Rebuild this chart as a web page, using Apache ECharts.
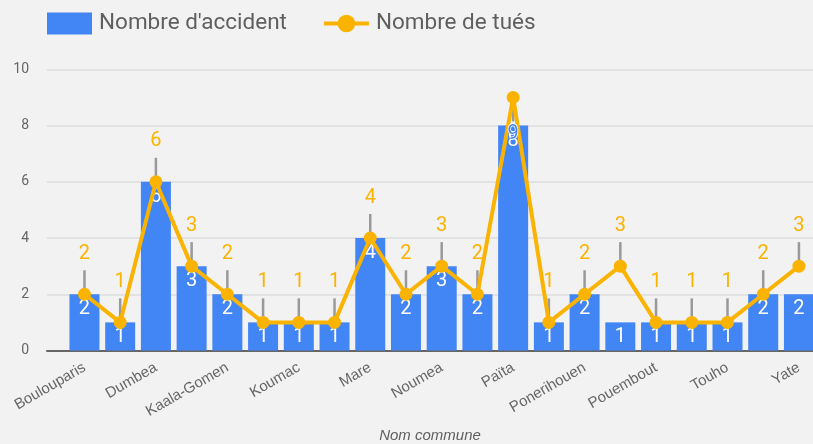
<!DOCTYPE html>
<html lang="fr">
<head>
    <meta charset="UTF-8">
    <title>Accidents par commune</title>
    <style>
        html, body { margin: 0; padding: 0; background: #f2f2f2; }
    </style>
</head>
<body>
<div id="main" style="width: 813px;height:444px;"></div>
<script src="https://cdn.jsdelivr.net/npm/echarts@6/dist/echarts.min.js"></script>
<script>
    // données
    var communes = ['Boulouparis', 'Bourail', 'Dumbea', 'Houailou', 'Kaala-Gomen', 'Kone', 'Koumac', 'La Foa',
        'Mare', 'Mont-Dore', 'Noumea', 'Ouegoa', 'Païta', 'Poindimie', 'Ponerihouen', 'Pouebo',
        'Pouembout', 'Poya', 'Touho', 'Voh', 'Yate'];
    var accidents = [2, 1, 6, 3, 2, 1, 1, 1, 4, 2, 3, 2, 8, 1, 2, 1, 1, 1, 1, 2, 2];
    var tues = [2, 1, 6, 3, 2, 1, 1, 1, 4, 2, 3, 2, 9, 1, 2, 3, 1, 1, 1, 2, 3];
    var yTicks = [0, 2, 4, 6, 8, 10];

    var bleu = '#4285F4';
    var orange = '#FAB300';
    var gris = '#666666';
    var maxIdx = tues.indexOf(Math.max.apply(null, tues));

    var myChart = echarts.init(document.getElementById('main'));

    var option = {
        backgroundColor: '#f2f2f2',
        textStyle: { fontFamily: 'Roboto' },
        animation: false,
        legend: {
            left: 47,
            top: 12,
            padding: 0,
            itemWidth: 45,
            itemHeight: 22,
            itemGap: 35,
            textStyle: { fontSize: 22.5, color: '#5f5f5f', padding: [0, 0, 0, 2] },
            data: [
                { name: "Nombre d'accident", icon: 'rect' },
                { name: 'Nombre de tués', lineStyle: { width: 4 } }
            ]
        },
        grid: [
            // cadre : lignes de grille + axe
            { left: 47, right: 0, top: 69.3, bottom: 93.5, outerBoundsMode: 'none' },
            // zone des barres
            { left: 66.6, right: -3.8, top: 69.3, bottom: 93.5, outerBoundsMode: 'none' }
        ],
        xAxis: [
            {
                gridIndex: 0, type: 'value', min: 0, max: 1,
                axisLabel: { show: false }, axisTick: { show: false }, splitLine: { show: false },
                axisLine: { show: true, lineStyle: { color: '#666', width: 2 } },
                name: 'Nom commune', nameLocation: 'middle', nameGap: 78,
                nameTextStyle: { fontStyle: 'italic', fontSize: 15, color: '#5f5f5f',
                    fontFamily: 'Liberation Sans' }
            },
            {
                gridIndex: 1, type: 'category', data: communes,
                axisLine: { show: false }, axisTick: { show: false },
                axisLabel: { interval: 1, rotate: 30, margin: 16, fontSize: 15, color: gris,
                    fontFamily: 'Liberation Sans' }
            }
        ],
        yAxis: [
            {
                gridIndex: 0, type: 'value', min: 0, max: 10, interval: 2,
                axisLine: { show: false }, axisTick: { show: false },
                axisLabel: { margin: 18, fontSize: 14, color: gris,
                    customValues: yTicks },
                splitLine: { lineStyle: { color: '#e2e2e2', width: 2 } }
            },
            {
                gridIndex: 1, type: 'value', min: 0, max: 10, interval: 2,
                axisLine: { show: false }, axisTick: { show: false },
                axisLabel: { show: false }, splitLine: { show: false }
            }
        ],
        series: [
            {
                name: "Nombre d'accident",
                type: 'bar',
                xAxisIndex: 1, yAxisIndex: 1,
                barWidth: 30,
                itemStyle: { color: bleu },
                label: {
                    show: true, position: 'insideTop', distance: 5,
                    color: '#fff', fontSize: 20
                },
                data: accidents
            },
            {
                // petites tiges grises des annotations
                name: 'tiges',
                type: 'custom',
                xAxisIndex: 1, yAxisIndex: 1,
                silent: true,
                z: 3,
                renderItem: function (params, api) {
                    var i = api.value(0);
                    var p = api.coord([i, api.value(1)]);
                    var dir = i === maxIdx ? 1 : -1;
                    return {
                        type: 'line',
                        shape: { x1: p[0], y1: p[1], x2: p[0], y2: p[1] + dir * 24 },
                        style: { stroke: '#999', lineWidth: 2.5 }
                    };
                },
                data: tues.map(function (v, i) { return [i, v]; })
            },
            {
                name: 'Nombre de tués',
                type: 'line',
                xAxisIndex: 1, yAxisIndex: 1,
                z: 4,
                symbol: 'circle',
                symbolSize: 13,
                lineStyle: { color: orange, width: 4 },
                itemStyle: { color: orange },
                label: {
                    show: true, position: 'top', distance: 24,
                    color: orange, fontSize: 20
                },
                data: tues.map(function (v, i) {
                    if (i === maxIdx) {
                        return { value: v, label: { position: 'bottom', distance: 20, color: bleu,
                            textBorderColor: '#fff', textBorderWidth: 1.5 } };
                    }
                    return v;
                })
            }
        ]
    };

    myChart.setOption(option);
</script>
</body>
</html>
